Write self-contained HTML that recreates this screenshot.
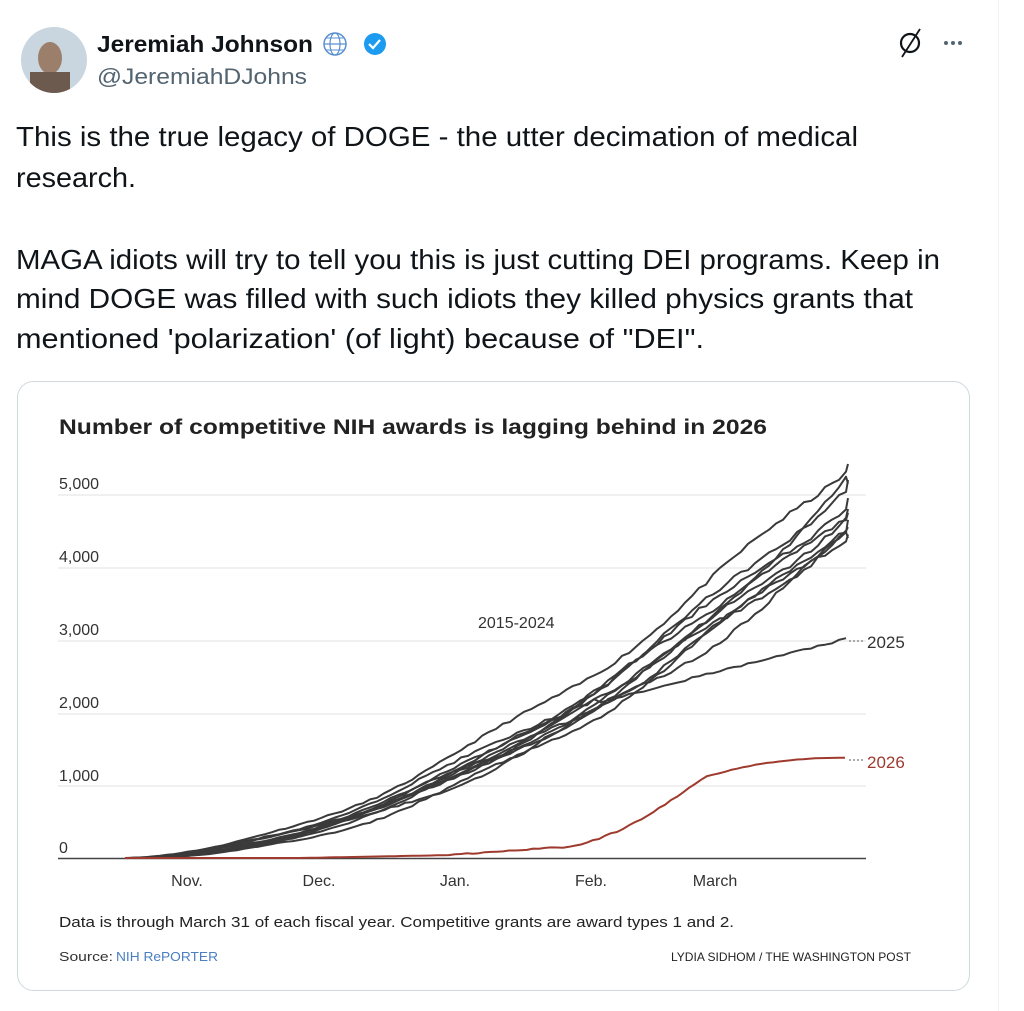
<!DOCTYPE html>
<html><head><meta charset="utf-8"><style>
html,body{margin:0;padding:0;background:#fff;width:1024px;height:1011px;overflow:hidden}
svg{display:block}
text{font-family:"Liberation Sans",sans-serif}
</style></head><body>
<svg id="s" width="1024" height="1011" viewBox="0 0 1024 1011" xmlns="http://www.w3.org/2000/svg">
<line x1="998.5" y1="0" x2="998.5" y2="1011" stroke="#eff3f4" stroke-width="1"/>
<defs><clipPath id="av"><circle cx="54" cy="60" r="33"/></clipPath></defs>
<g clip-path="url(#av)">
<rect x="20" y="26" width="70" height="70" fill="#c9d6df"/>
<ellipse cx="50" cy="58" rx="12" ry="16" fill="#9c7f6a"/>
<rect x="30" y="72" width="40" height="30" fill="#6d5a4e"/>
</g>
<text x="97" y="52" font-size="23" font-weight="bold" fill="#0f1419" textLength="216" lengthAdjust="spacingAndGlyphs">Jeremiah Johnson</text>
<circle cx="335" cy="44" r="11" fill="none" stroke="#5a8fd0" stroke-width="1.5"/>
<ellipse cx="335" cy="44" rx="5" ry="11" fill="none" stroke="#5a8fd0" stroke-width="1.2"/>
<line x1="324" y1="44" x2="346" y2="44" stroke="#5a8fd0" stroke-width="1.2"/>
<line x1="326" y1="38" x2="344" y2="38" stroke="#5a8fd0" stroke-width="1"/>
<line x1="326" y1="50" x2="344" y2="50" stroke="#5a8fd0" stroke-width="1"/>
<circle cx="375" cy="44" r="11" fill="#1d9bf0"/>
<path d="M369 44 l4 4 l7 -8" fill="none" stroke="#fff" stroke-width="2.2"/>
<text x="97" y="84" font-size="22" fill="#536471" textLength="210" lengthAdjust="spacingAndGlyphs">@JeremiahDJohns</text>
<circle cx="910" cy="43" r="9" fill="none" stroke="#0f1419" stroke-width="2.2"/>
<line x1="902" y1="57" x2="920" y2="29" stroke="#0f1419" stroke-width="1.8"/>
<circle cx="946" cy="43" r="2" fill="#536471"/><circle cx="953" cy="43" r="2" fill="#536471"/><circle cx="960" cy="43" r="2" fill="#536471"/>
<g font-size="28" fill="#0f1419" lengthAdjust="spacingAndGlyphs">
<text x="16" y="146" textLength="842" lengthAdjust="spacingAndGlyphs">This is the true legacy of DOGE - the utter decimation of medical</text>
<text x="16" y="187" textLength="120" lengthAdjust="spacingAndGlyphs">research.</text>
<text x="16" y="269" textLength="924" lengthAdjust="spacingAndGlyphs">MAGA idiots will try to tell you this is just cutting DEI programs. Keep in</text>
<text x="16" y="308" textLength="897" lengthAdjust="spacingAndGlyphs">mind DOGE was filled with such idiots they killed physics grants that</text>
<text x="16" y="348" textLength="688" lengthAdjust="spacingAndGlyphs">mentioned 'polarization' (of light) because of "DEI".</text>
</g>
<rect x="17.5" y="381.5" width="952" height="609" rx="16" fill="#fff" stroke="#cfd9de"/>
<text x="59" y="434" font-size="21" font-weight="bold" fill="#222" textLength="708" lengthAdjust="spacingAndGlyphs">Number of competitive NIH awards is lagging behind in 2026</text>
<g stroke="#e2e2e2" stroke-width="1">
<line x1="58" y1="495" x2="866" y2="495"/><line x1="58" y1="568" x2="866" y2="568"/>
<line x1="58" y1="641" x2="866" y2="641"/><line x1="58" y1="714" x2="866" y2="714"/>
<line x1="58" y1="786" x2="866" y2="786"/>
</g>
<line x1="58" y1="858.5" x2="866" y2="858.5" stroke="#444" stroke-width="1.5"/>
<g font-size="16" fill="#333">
<text x="59" y="489">5,000</text><text x="59" y="562">4,000</text><text x="59" y="635">3,000</text>
<text x="59" y="708">2,000</text><text x="59" y="781">1,000</text><text x="59" y="853">0</text>
<text x="187" y="886" text-anchor="middle">Nov.</text><text x="319" y="886" text-anchor="middle">Dec.</text>
<text x="455" y="886" text-anchor="middle">Jan.</text><text x="591" y="886" text-anchor="middle">Feb.</text>
<text x="715" y="886" text-anchor="middle">March</text>
<text x="478" y="628">2015-2024</text>
<text x="867" y="648" font-size="17">2025</text>
<text x="867" y="768" font-size="17" fill="#9e3a2e">2026</text>
</g>
<g id="lines" fill="none" stroke-width="2" stroke-linejoin="round"></g>
<line x1="849" y1="641" x2="863" y2="641" stroke="#555" stroke-dasharray="2 2"/>
<line x1="849" y1="760" x2="863" y2="760" stroke="#555" stroke-dasharray="2 2"/>
<text x="59" y="927" font-size="15" fill="#222" textLength="675" lengthAdjust="spacingAndGlyphs">Data is through March 31 of each fiscal year. Competitive grants are award types 1 and 2.</text>
<text x="59" y="961" font-size="13" fill="#333" textLength="54" lengthAdjust="spacingAndGlyphs">Source:</text>
<text x="116" y="961" font-size="13" fill="#4a7fc1" textLength="102" lengthAdjust="spacingAndGlyphs">NIH RePORTER</text>
<text x="911" y="961" font-size="12" fill="#222" text-anchor="end" textLength="240" lengthAdjust="spacingAndGlyphs">LYDIA SIDHOM / THE WASHINGTON POST</text>
</svg>
<script>
var g=document.getElementById('lines');var seed=11;
function r(){seed=(seed*16807)%2147483647;return seed/2147483647;}
function Y(v){return 858-v*0.0727;}
function add(d,c,w){var p=document.createElementNS('http://www.w3.org/2000/svg','path');p.setAttribute('d',d);p.setAttribute('stroke',c);if(w)p.setAttribute('stroke-width',w);g.appendChild(p);}
var finals=[5420,5200,5150,4950,4800,4650,4550,4450,4400,4750];
for(var k=0;k<10;k++){var F=finals[k],p=1.7+r()*0.3,d='',x0=120+r()*25,off=0,ph=r()*6;
for(var x=125;x<=848;x+=7){var t=Math.max(0,(x-x0)/(848-x0));
var v=F*Math.pow(t,p)+Math.sin(x/40+ph)*120*t+(r()-0.5)*70*t;
d+=(x==125?'M':'L')+x+' '+Y(Math.max(0,v)).toFixed(1);}
d+='L848 '+Y(F).toFixed(1);add(d,'#3a3a3a');}
var d='';for(var x=125;x<=848;x+=7){var v;if(x<=600){var t=(x-130)/718;v=4900*Math.pow(Math.max(0,t),1.85);}else{v=2150+(x-600)/248*870+(r()-0.5)*30;}d+=(x==125?'M':'L')+x+' '+Y(v).toFixed(1);}add(d,'#3a3a3a');
d='';for(var x=125;x<=848;x+=6){var v;if(x<450)v=Math.max(0,(x-300)/150*40);else if(x<560)v=40+(x-450)/110*110+(r()-0.5)*15;else{var t=(x-560)/288;v=150+1230*(1-Math.pow(1-t,2.2))*Math.min(1,t*1.8+0.1)+(r()-0.5)*30*(1-t);}d+=(x==125?'M':'L')+x+' '+Y(v).toFixed(1);}add(d,'#9e3a2e');
</script>
</body></html>
